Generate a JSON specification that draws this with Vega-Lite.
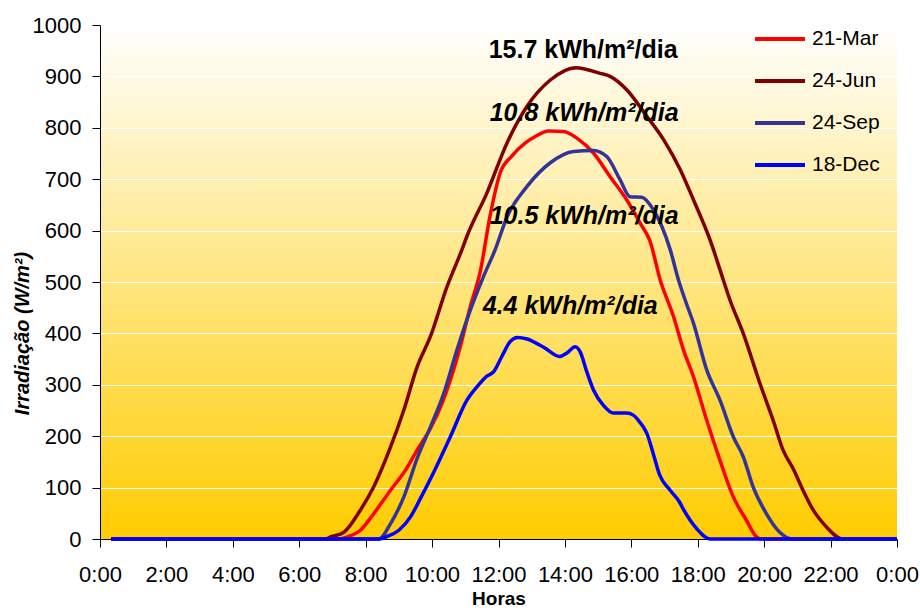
{
  "$schema": "https://vega.github.io/schema/vega-lite/v6.json",
  "width": 797,
  "height": 514,
  "autosize": "none",
  "padding": {"left": 100, "top": 25, "right": 23, "bottom": 75},
  "background": "white",
  "config": {
    "font": "Liberation Sans",
    "view": {
      "stroke": null,
      "fill": {"gradient": "linear", "x1": 0, "y1": 0, "x2": 0, "y2": 1,
        "stops": [{"offset": 0, "color": "#FFFFFF"}, {"offset": 1, "color": "#FFCC00"}]}
    }
  },
  "datasets": {
    "series": [
      {"s": "21-Mar", "t": 0.33, "v": 0}, {"s": "21-Mar", "t": 7.2, "v": 0}, {"s": "21-Mar", "t": 7.45, "v": 4},
      {"s": "21-Mar", "t": 7.84, "v": 17}, {"s": "21-Mar", "t": 8.24, "v": 49}, {"s": "21-Mar", "t": 8.75, "v": 95},
      {"s": "21-Mar", "t": 9.2, "v": 134}, {"s": "21-Mar", "t": 9.55, "v": 173}, {"s": "21-Mar", "t": 9.95, "v": 215},
      {"s": "21-Mar", "t": 10.3, "v": 264}, {"s": "21-Mar", "t": 10.55, "v": 309}, {"s": "21-Mar", "t": 10.85, "v": 374},
      {"s": "21-Mar", "t": 11.15, "v": 452}, {"s": "21-Mar", "t": 11.45, "v": 520}, {"s": "21-Mar", "t": 11.75, "v": 630},
      {"s": "21-Mar", "t": 12.05, "v": 712}, {"s": "21-Mar", "t": 12.4, "v": 745}, {"s": "21-Mar", "t": 12.8, "v": 770},
      {"s": "21-Mar", "t": 13.16, "v": 785}, {"s": "21-Mar", "t": 13.5, "v": 794}, {"s": "21-Mar", "t": 13.96, "v": 793},
      {"s": "21-Mar", "t": 14.36, "v": 780}, {"s": "21-Mar", "t": 14.86, "v": 751}, {"s": "21-Mar", "t": 15.36, "v": 705},
      {"s": "21-Mar", "t": 15.86, "v": 660}, {"s": "21-Mar", "t": 16.26, "v": 615}, {"s": "21-Mar", "t": 16.56, "v": 580},
      {"s": "21-Mar", "t": 16.87, "v": 504}, {"s": "21-Mar", "t": 17.27, "v": 433}, {"s": "21-Mar", "t": 17.57, "v": 368},
      {"s": "21-Mar", "t": 17.87, "v": 316}, {"s": "21-Mar", "t": 18.27, "v": 231}, {"s": "21-Mar", "t": 18.67, "v": 153},
      {"s": "21-Mar", "t": 19.07, "v": 82}, {"s": "21-Mar", "t": 19.47, "v": 36}, {"s": "21-Mar", "t": 19.77, "v": 4},
      {"s": "21-Mar", "t": 19.9, "v": 0}, {"s": "21-Mar", "t": 24, "v": 0},

      {"s": "24-Jun", "t": 0.33, "v": 0}, {"s": "24-Jun", "t": 6.8, "v": 0}, {"s": "24-Jun", "t": 6.94, "v": 4},
      {"s": "24-Jun", "t": 7.34, "v": 13}, {"s": "24-Jun", "t": 7.84, "v": 56}, {"s": "24-Jun", "t": 8.24, "v": 101},
      {"s": "24-Jun", "t": 8.75, "v": 179}, {"s": "24-Jun", "t": 9.15, "v": 251}, {"s": "24-Jun", "t": 9.55, "v": 335},
      {"s": "24-Jun", "t": 9.95, "v": 394}, {"s": "24-Jun", "t": 10.45, "v": 491}, {"s": "24-Jun", "t": 10.9, "v": 563},
      {"s": "24-Jun", "t": 11.05, "v": 589}, {"s": "24-Jun", "t": 11.65, "v": 673}, {"s": "24-Jun", "t": 12.26, "v": 771},
      {"s": "24-Jun", "t": 12.86, "v": 842}, {"s": "24-Jun", "t": 13.56, "v": 893}, {"s": "24-Jun", "t": 14.33, "v": 917},
      {"s": "24-Jun", "t": 15.06, "v": 906}, {"s": "24-Jun", "t": 15.36, "v": 900}, {"s": "24-Jun", "t": 15.86, "v": 874},
      {"s": "24-Jun", "t": 16.47, "v": 822}, {"s": "24-Jun", "t": 16.97, "v": 777}, {"s": "24-Jun", "t": 17.47, "v": 719},
      {"s": "24-Jun", "t": 17.87, "v": 660}, {"s": "24-Jun", "t": 18.37, "v": 582}, {"s": "24-Jun", "t": 18.77, "v": 504},
      {"s": "24-Jun", "t": 18.97, "v": 465}, {"s": "24-Jun", "t": 19.37, "v": 400}, {"s": "24-Jun", "t": 19.87, "v": 303},
      {"s": "24-Jun", "t": 20.27, "v": 231}, {"s": "24-Jun", "t": 20.57, "v": 173}, {"s": "24-Jun", "t": 20.87, "v": 137},
      {"s": "24-Jun", "t": 21.17, "v": 95}, {"s": "24-Jun", "t": 21.48, "v": 56}, {"s": "24-Jun", "t": 21.88, "v": 23},
      {"s": "24-Jun", "t": 22.18, "v": 5}, {"s": "24-Jun", "t": 22.35, "v": 0}, {"s": "24-Jun", "t": 24, "v": 0},

      {"s": "24-Sep", "t": 0.33, "v": 0}, {"s": "24-Sep", "t": 8.4, "v": 0}, {"s": "24-Sep", "t": 8.75, "v": 30},
      {"s": "24-Sep", "t": 9.15, "v": 82}, {"s": "24-Sep", "t": 9.55, "v": 157}, {"s": "24-Sep", "t": 9.95, "v": 218},
      {"s": "24-Sep", "t": 10.35, "v": 283}, {"s": "24-Sep", "t": 10.75, "v": 368}, {"s": "24-Sep", "t": 11.1, "v": 436},
      {"s": "24-Sep", "t": 11.55, "v": 511}, {"s": "24-Sep", "t": 11.9, "v": 563}, {"s": "24-Sep", "t": 12.26, "v": 627},
      {"s": "24-Sep", "t": 12.86, "v": 686}, {"s": "24-Sep", "t": 13.56, "v": 732}, {"s": "24-Sep", "t": 14.26, "v": 754},
      {"s": "24-Sep", "t": 14.86, "v": 756}, {"s": "24-Sep", "t": 15.26, "v": 744}, {"s": "24-Sep", "t": 15.66, "v": 699},
      {"s": "24-Sep", "t": 15.96, "v": 666}, {"s": "24-Sep", "t": 16.31, "v": 665}, {"s": "24-Sep", "t": 16.66, "v": 641},
      {"s": "24-Sep", "t": 17.17, "v": 563}, {"s": "24-Sep", "t": 17.42, "v": 504}, {"s": "24-Sep", "t": 17.62, "v": 465},
      {"s": "24-Sep", "t": 17.87, "v": 420}, {"s": "24-Sep", "t": 18.27, "v": 329}, {"s": "24-Sep", "t": 18.67, "v": 270},
      {"s": "24-Sep", "t": 19.07, "v": 199}, {"s": "24-Sep", "t": 19.37, "v": 160}, {"s": "24-Sep", "t": 19.67, "v": 101},
      {"s": "24-Sep", "t": 20.07, "v": 49}, {"s": "24-Sep", "t": 20.47, "v": 13}, {"s": "24-Sep", "t": 20.83, "v": 0},
      {"s": "24-Sep", "t": 24, "v": 0},

      {"s": "18-Dec", "t": 0.33, "v": 0}, {"s": "18-Dec", "t": 8.4, "v": 0}, {"s": "18-Dec", "t": 8.65, "v": 5},
      {"s": "18-Dec", "t": 9.0, "v": 17}, {"s": "18-Dec", "t": 9.35, "v": 43}, {"s": "18-Dec", "t": 9.65, "v": 79},
      {"s": "18-Dec", "t": 10.05, "v": 130}, {"s": "18-Dec", "t": 10.55, "v": 199}, {"s": "18-Dec", "t": 11.05, "v": 270},
      {"s": "18-Dec", "t": 11.35, "v": 296}, {"s": "18-Dec", "t": 11.65, "v": 317}, {"s": "18-Dec", "t": 11.85, "v": 325},
      {"s": "18-Dec", "t": 12.1, "v": 355}, {"s": "18-Dec", "t": 12.35, "v": 384}, {"s": "18-Dec", "t": 12.57, "v": 392},
      {"s": "18-Dec", "t": 12.86, "v": 389}, {"s": "18-Dec", "t": 13.36, "v": 373}, {"s": "18-Dec", "t": 13.84, "v": 355},
      {"s": "18-Dec", "t": 14.06, "v": 362}, {"s": "18-Dec", "t": 14.31, "v": 374}, {"s": "18-Dec", "t": 14.46, "v": 364},
      {"s": "18-Dec", "t": 14.66, "v": 325}, {"s": "18-Dec", "t": 14.86, "v": 290}, {"s": "18-Dec", "t": 15.16, "v": 260},
      {"s": "18-Dec", "t": 15.46, "v": 245}, {"s": "18-Dec", "t": 15.86, "v": 245}, {"s": "18-Dec", "t": 16.06, "v": 241},
      {"s": "18-Dec", "t": 16.21, "v": 231}, {"s": "18-Dec", "t": 16.36, "v": 218}, {"s": "18-Dec", "t": 16.47, "v": 205},
      {"s": "18-Dec", "t": 16.66, "v": 166}, {"s": "18-Dec", "t": 16.85, "v": 125}, {"s": "18-Dec", "t": 17.17, "v": 95},
      {"s": "18-Dec", "t": 17.45, "v": 72}, {"s": "18-Dec", "t": 17.6, "v": 54}, {"s": "18-Dec", "t": 17.97, "v": 20},
      {"s": "18-Dec", "t": 18.37, "v": 0}, {"s": "18-Dec", "t": 24, "v": 0}
    ],
    "notes": [
      {"t": 14.55, "v": 952, "label": "15.7 kWh/m²/dia", "italic": false},
      {"t": 14.58, "v": 829, "label": "10.8 kWh/m²/dia", "italic": true},
      {"t": 14.58, "v": 629, "label": "10.5 kWh/m²/dia", "italic": true},
      {"t": 14.16, "v": 453, "label": "4.4 kWh/m²/dia", "italic": true}
    ]
  },
  "layer": [
    {
      "data": {"name": "series"},
      "mark": {"type": "line", "strokeWidth": 3.5, "interpolate": "monotone"},
      "encoding": {
        "x": {
          "field": "t", "type": "quantitative",
          "scale": {"domain": [0, 24], "nice": false},
          "axis": {
            "title": "Horas",
            "values": [0, 2, 4, 6, 8, 10, 12, 14, 16, 18, 20, 22, 24],
            "labelExpr": "(datum.value % 24) + ':00'",
            "grid": false,
            "domainColor": "black", "tickColor": "black", "tickSize": 8,
            "labelFontSize": 22, "labelColor": "black", "labelPadding": 17,
            "labelFlush": false, "labelOverlap": false,
            "titleFontSize": 19, "titleFontWeight": "bold", "titleColor": "black", "titlePadding": 4
          }
        },
        "y": {
          "field": "v", "type": "quantitative",
          "scale": {"domain": [0, 1000], "nice": false},
          "axis": {
            "title": "Irradiação (W/m²)",
            "format": "d",
            "values": [0, 100, 200, 300, 400, 500, 600, 700, 800, 900, 1000],
            "grid": true, "gridColor": "white", "gridWidth": 1.2,
            "domainColor": "black", "tickColor": "black", "tickSize": 8,
            "labelFontSize": 22, "labelColor": "black", "labelPadding": 11,
            "titleFontSize": 20, "titleFontWeight": "bold", "titleFontStyle": "italic",
            "titleColor": "black", "titlePadding": 0, "titleY": 308
          }
        },
        "color": {
          "field": "s", "type": "nominal",
          "scale": {"domain": ["21-Mar", "24-Jun", "24-Sep", "18-Dec"], "range": ["#FF0000", "#800000", "#333399", "#0000FF"]},
          "legend": {
            "title": null, "orient": "none", "legendX": 653, "legendY": -13,
            "symbolType": "stroke", "symbolSize": 2500, "symbolStrokeWidth": 4,
            "labelFontSize": 21, "labelColor": "black", "labelOffset": 5, "padding": 0, "rowPadding": 5
          }
        }
      }
    },
    {
      "data": {"name": "notes"},
      "transform": [{"filter": "!datum.italic"}],
      "mark": {"type": "text", "fontSize": 25, "fontWeight": "bold", "color": "black", "align": "center", "baseline": "middle"},
      "encoding": {
        "x": {"field": "t", "type": "quantitative"},
        "y": {"field": "v", "type": "quantitative"},
        "text": {"field": "label"}
      }
    },
    {
      "data": {"name": "notes"},
      "transform": [{"filter": "datum.italic"}],
      "mark": {"type": "text", "fontSize": 25, "fontWeight": "bold", "fontStyle": "italic", "color": "black", "align": "center", "baseline": "middle"},
      "encoding": {
        "x": {"field": "t", "type": "quantitative"},
        "y": {"field": "v", "type": "quantitative"},
        "text": {"field": "label"}
      }
    }
  ]
}
